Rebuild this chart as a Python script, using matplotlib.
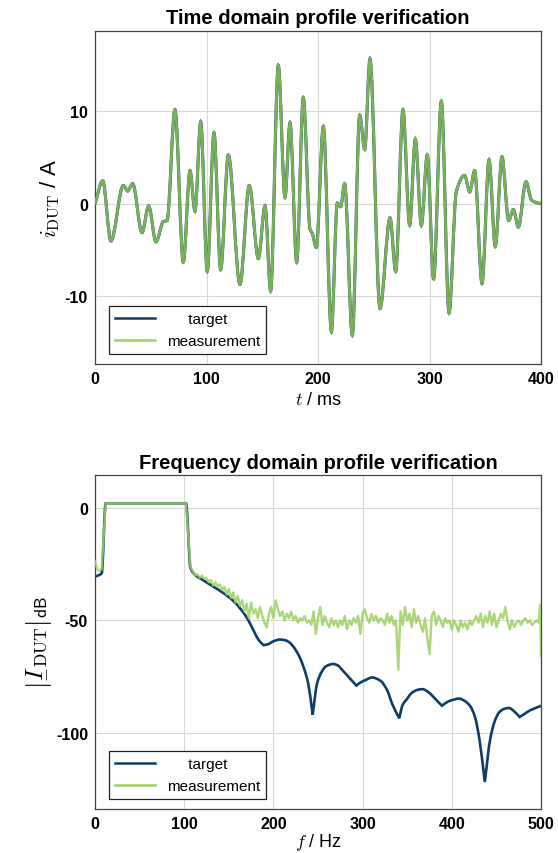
import numpy as np
import matplotlib.pyplot as plt
from matplotlib.path import Path
from matplotlib.patches import PathPatch
from matplotlib.lines import Line2D
from matplotlib.mathtext import MathTextParser

plt.rcParams['font.family'] = ['Liberation Sans', 'DejaVu Sans']
plt.rcParams['mathtext.fontset'] = 'cm'
plt.rcParams['axes.unicode_minus'] = False

# --- time domain: extrema (t in ms, i in A)
t_ms = [0, 6.9, 14.3, 25.4, 29.3, 33.8, 42.2, 48.1, 54.7, 61.3, 64.6, 71.7, 79.2, 85.2,
        89.7, 94.8, 100.7, 106.7, 112.7, 119.6, 130.0, 138.4, 146.5, 152.5, 157.5, 164.4,
        170.4, 174.9, 180.9, 186.8, 192.8, 194.9, 198.5, 204.8, 212.0, 217.3, 220.3, 223.9,
        230.8, 237.4, 241.9, 246.6, 255.6, 264.6, 269.7, 276.2, 282.2, 287.3, 292.7, 298.0,
        303.7, 310.6, 317.5, 324.0, 331.5, 336.0, 340.5, 347.1, 353.4, 359.0, 365.0, 371.0,
        375.2, 379.7, 386.5, 391.6, 400.0]
i_target = [0, 2.5, -4.0, 2.0, 1.4, 2.2, -3.1, -0.2, -4.1, -1.9, -1.8, 10.2, -6.3, 3.6,
            -0.8, 8.9, -7.3, 7.7, -7.1, 5.3, -8.7, 2.0, -5.9, -0.2, -9.4, 15.0,
            0.7, 8.8, -6.3, 11.5, -2.7, -3.2, -4.7, 8.4, -13.8, 0.1, -0.3, 2.2,
            -14.2, 9.6, 5.9, 15.7, -11.3, -1.5, -7.3, 10.2, -2.3, 7.0, -2.3, 5.3,
            -8.1, 11.1, -11.8, 1.3, 3.1, 1.3, 3.6, -8.6, 4.8, -4.6, 5.1, -1.8,
            -0.6, -2.5, 2.4, 0.4, 0.0]
# measurement follows the target within the line width
i_meas = list(i_target)

# --- frequency domain (f in Hz, magnitude in dB)
f_target = [0, 7.5, 12, 102, 107, 113, 119, 125, 133, 141, 149, 157, 163, 169, 174, 179,
            184, 189, 194, 200, 207, 213, 218, 223, 229, 234, 239, 244, 249, 254, 259,
            267, 272, 277, 285, 293, 297, 303, 311, 316, 321, 328, 333, 341, 345, 349,
            355, 361, 367, 374, 379, 384, 389, 395, 401, 408, 415, 421, 426, 431, 437,
            443, 448, 453, 458, 464, 470, 476, 482, 488, 494, 500]
db_target = [-30.5, -29, 2.2, 2.2, -26.5, -30, -31.5, -33, -35, -37, -39.3, -42, -44.8,
             -48, -51.5, -55.5, -59, -61, -60.6, -59.3, -58.5, -58.8, -59.8, -62, -66,
             -71, -78, -92, -78, -73, -70.4, -69.4, -70, -72, -75.5, -79, -77.8, -76.6,
             -75.4, -76, -77.2, -81.5, -87, -93.6, -87.5, -85.4, -82.3, -81, -80.6,
             -82, -83.9, -86, -88, -86.3, -85.4, -84.8, -86, -88.4, -93, -103, -122,
             -103, -95, -91, -89.5, -89, -90.5, -93, -91.5, -90, -89, -88]

f_meas_low = [0, 2.5, 5, 7.5, 12, 102, 107]
db_meas_low = [-23.5, -27, -28, -27, 2.2, 2.2, -26]
db_meas_high = [
    -28.5, -30, -29.5, -31, -30, -31.5, -31, -33, -32, -34.5,      # 110 - 132.5
    -33, -35, -34, -36.5, -35, -38.5, -36, -40, -37.5, -42,        # 135 - 157.5
    -39, -43.5, -41, -46, -42.5, -49, -42, -47, -45, -49,          # 160 - 182.5
    -44, -48, -51, -53, -47, -44, -49, -41, -45, -48,              # 185 - 207.5
    -46, -50, -47, -49, -46, -50, -48, -51, -49, -50,              # 210 - 232.5
    -48, -51, -50, -52, -46, -56, -49, -44, -52, -48,              # 235 - 257.5
    -51, -53, -49, -52, -50, -53, -50, -52, -48, -54,              # 260 - 282.5
    -50, -52, -49, -51, -48, -56, -47, -45, -49, -51,              # 285 - 307.5
    -47, -50, -48, -51, -49, -50, -52, -47, -51, -48,              # 310 - 332.5
    -52, -50, -72, -46, -52, -44, -50, -47, -53, -45,              # 335 - 357.5
    -51, -48, -52, -55, -49, -58, -65, -48, -46, -52,              # 360 - 382.5
    -48, -50, -53, -49, -51, -50, -54, -50, -52, -55,              # 385 - 407.5
    -50, -53, -51, -54, -50, -52, -50, -48, -51, -47,              # 410 - 432.5
    -53, -48, -51, -46, -52, -47, -53, -50, -47, -49,              # 435 - 457.5
    -44, -50, -54, -50, -53, -51, -50, -52, -50, -49,              # 460 - 482.5
    -51, -50, -52, -51, -50, -51, -43, -66]                        # 485 - 500
f_meas_high = list(np.arange(110, 498, 2.5)) + [499, 500]
f_meas = f_meas_low + f_meas_high
db_meas = db_meas_low + db_meas_high

c_target = '#0c3d6b'
c_meas = '#9dcf62'


def smooth_path(x, y, cusp_minima=False):
    # monotone cubic Bezier through the points; optional sharp local minima
    x = np.asarray(x, float)
    y = np.asarray(y, float)
    dx = np.diff(x)
    d = np.diff(y) / dx
    m_in = np.zeros_like(y)
    m_out = np.zeros_like(y)
    m_in[0] = m_out[0] = d[0]
    m_in[-1] = m_out[-1] = d[-1]
    for k in range(1, len(y) - 1):
        if d[k - 1] * d[k] > 0:
            w1 = 2 * dx[k] + dx[k - 1]
            w2 = dx[k] + 2 * dx[k - 1]
            m_in[k] = m_out[k] = (w1 + w2) / (w1 / d[k - 1] + w2 / d[k])
        elif cusp_minima and d[k - 1] < 0 < d[k]:
            m_in[k], m_out[k] = d[k - 1], d[k]
    verts = [(x[0], y[0])]
    codes = [Path.MOVETO]
    for k in range(len(x) - 1):
        h = dx[k] / 3
        verts += [(x[k] + h, y[k] + m_out[k] * h), (x[k + 1] - h, y[k + 1] - m_in[k + 1] * h),
                  (x[k + 1], y[k + 1])]
        codes += [Path.CURVE4] * 3
    return Path(verts, codes)


def mag_label():
    tries = [r'$\left|\underline{I}_{\mathrm{DUT}}\right|_{\mathsf{dB}}$',
             r'$\left|\underset{-}{I}_{\mathrm{DUT}}\right|_{\mathsf{dB}}$']
    for s in tries:
        try:
            MathTextParser('path').parse(s)
            return s
        except Exception:
            pass
    return r'$\left|I_{\mathrm{DUT}}\right|_{\mathsf{dB}}$'


fig = plt.figure(figsize=(5.58, 8.54), dpi=100)
ax1 = fig.add_axes([95 / 558, 1 - 365 / 854, 446 / 558, 333 / 854])
ax2 = fig.add_axes([95 / 558, 1 - 810 / 854, 446 / 558, 334 / 854])

ax1.add_patch(PathPatch(smooth_path(t_ms, i_target), fill=False, edgecolor=c_target,
                        lw=2.2, zorder=3))
ax1.add_patch(PathPatch(smooth_path(t_ms, i_meas), fill=False, edgecolor='#86bf57',
                        lw=2.0, alpha=0.9, zorder=4))
ax1.set_xlim(0, 400)
ax1.set_ylim(-17.3, 18.7)
ax1.set_xticks([0, 100, 200, 300, 400])
ax1.set_yticks([-10, 0, 10])
ax1.set_title('Time domain profile verification', fontsize=14.5, fontweight='bold', pad=6)
ax1.set_xlabel('$t$ / ms', fontsize=13, labelpad=4)
ax1.set_ylabel(r'$i_{\mathrm{DUT}}$ / A', fontsize=16, labelpad=2)

ax2.add_patch(PathPatch(smooth_path(f_target, db_target, cusp_minima=True), fill=False,
                        edgecolor=c_target, lw=1.9, zorder=3))
ax2.plot(f_meas, db_meas, color=c_meas, lw=1.7, alpha=0.85, zorder=4)
ax2.set_xlim(0, 500)
ax2.set_ylim(-134, 14.8)
ax2.set_xticks([0, 100, 200, 300, 400, 500])
ax2.set_yticks([-100, -50, 0])
ax2.set_title('Frequency domain profile verification', fontsize=14.5, fontweight='bold', pad=5)
ax2.set_xlabel('$f$ / Hz', fontsize=13, labelpad=0)
ax2.set_ylabel(mag_label(), fontsize=18, labelpad=1)

for ax in (ax1, ax2):
    ax.grid(True, color='#d8d8d8', lw=0.8)
    ax.set_axisbelow(True)
    ax.tick_params(length=0, labelsize=11.5, pad=5)
    for lab in ax.get_xticklabels() + ax.get_yticklabels():
        lab.set_fontweight('bold')
    for sp in ax.spines.values():
        sp.set_color('#444444')
        sp.set_linewidth(0.9)
    handles = [Line2D([], [], color=c_target, lw=1.8),
               Line2D([], [], color=c_meas, lw=1.8)]
    leg = ax.legend(handles, ['     target', 'measurement'], loc='lower left',
                    bbox_to_anchor=(0.031, 0.03), borderaxespad=0, fancybox=False,
                    edgecolor='#222222', framealpha=1, fontsize=11, handlelength=2.6)
    leg.get_frame().set_linewidth(0.9)

fig.savefig('out.png', dpi=100)
